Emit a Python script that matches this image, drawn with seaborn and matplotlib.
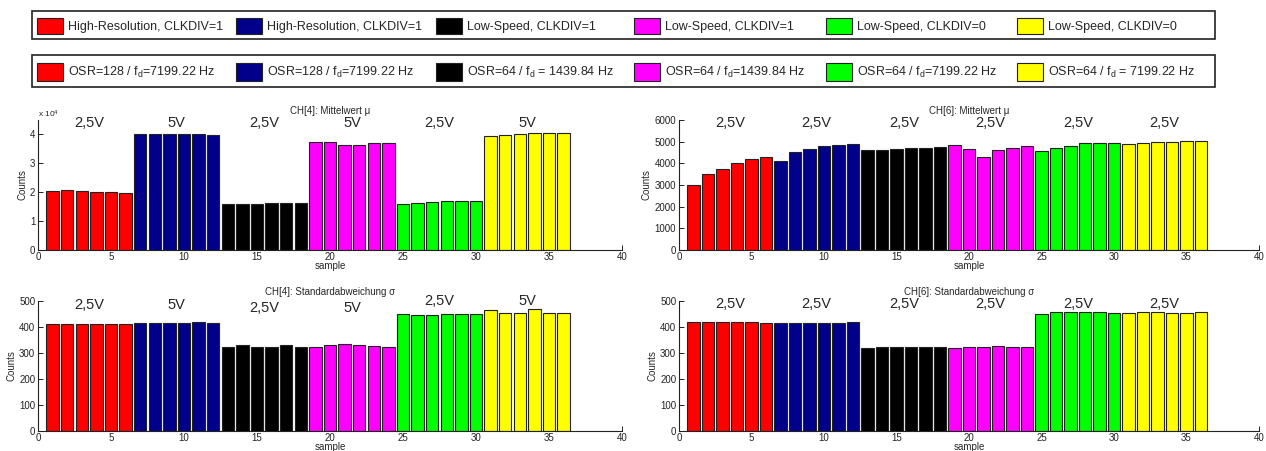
import matplotlib
matplotlib.use("Agg")
import matplotlib.pyplot as plt
from matplotlib.patches import Patch, Rectangle
from matplotlib.ticker import FuncFormatter
import pandas as pd
import seaborn as sns

# ---------------------------------------------------------------- data
samples = list(range(1, 37))
group_ids = ["G1"] * 6 + ["G2"] * 6 + ["G3"] * 6 + ["G4"] * 6 + ["G5"] * 6 + ["G6"] * 6
group_order = ["G1", "G2", "G3", "G4", "G5", "G6"]
group_colors = ["#ff0000", "#00008b", "#000000", "#ff00ff", "#00ff00", "#ffff00"]

mode_labels = [
    "High-Resolution, CLKDIV=1",
    "High-Resolution, CLKDIV=1",
    "Low-Speed, CLKDIV=1",
    "Low-Speed, CLKDIV=1",
    "Low-Speed, CLKDIV=0",
    "Low-Speed, CLKDIV=0",
]
osr_labels = [
    r"OSR=128 / f$_{\mathregular{d}}$=7199.22 Hz",
    r"OSR=128 / f$_{\mathregular{d}}$=7199.22 Hz",
    r"OSR=64 / f$_{\mathregular{d}}$ = 1439.84 Hz",
    r"OSR=64 / f$_{\mathregular{d}}$=1439.84 Hz",
    r"OSR=64 / f$_{\mathregular{d}}$=7199.22 Hz",
    r"OSR=64 / f$_{\mathregular{d}}$ = 7199.22 Hz",
]

ch4_volts = ["2,5V", "5V", "2,5V", "5V", "2,5V", "5V"]
ch6_volts = ["2,5V", "2,5V", "2,5V", "2,5V", "2,5V", "2,5V"]

ch4_mean = [20500, 20600, 20400, 20200, 20100, 19900,
            40200, 40200, 40200, 40200, 40000, 39900,
            16000, 15900, 16000, 16100, 16300, 16300,
            37500, 37300, 36200, 36500, 36900, 37200,
            16000, 16400, 16600, 16800, 17000, 17100,
            39500, 39900, 40200, 40400, 40600, 40600]

ch6_mean = [3000, 3500, 3720, 4030, 4200, 4310,
            4130, 4510, 4660, 4820, 4860, 4910,
            4600, 4630, 4660, 4710, 4710, 4760,
            4850, 4650, 4310, 4600, 4730, 4810,
            4560, 4710, 4820, 4920, 4940, 4960,
            4880, 4940, 4980, 4980, 5010, 5010]

ch4_std = [411, 411, 411, 411, 411, 411,
           416, 415, 415, 414, 418, 416,
           322, 331, 322, 325, 329, 323,
           323, 330, 333, 329, 327, 325,
           451, 448, 448, 450, 450, 450,
           466, 454, 454, 470, 454, 454]

ch6_std = [418, 418, 418, 418, 420, 417,
           417, 417, 417, 417, 415, 420,
           320, 325, 323, 322, 323, 324,
           321, 323, 323, 326, 323, 323,
           451, 456, 458, 458, 456, 455,
           455, 456, 456, 455, 455, 458]

# ---------------------------------------------------------------- style
sns.set_style("ticks", {"xtick.direction": "in", "ytick.direction": "in"})
plt.rcParams["font.family"] = ["Liberation Sans", "DejaVu Sans"]
plt.rcParams["mathtext.fontset"] = "custom"
plt.rcParams["mathtext.rm"] = "Liberation Sans"
plt.rcParams["mathtext.it"] = "Liberation Sans"

W, H = 1266, 451
fig = plt.figure(figsize=(W / 100, H / 100), dpi=100)
fig.patch.set_facecolor("white")


def fx(px):
    return px / W


def fy(py):
    return 1 - py / H


palette = dict(zip(group_order, group_colors))


def panel(rect, values, title, volts, label_y, yticks, ylim, fmt=None, multiplier=None):
    left, right, top, bottom = rect
    ax = fig.add_axes([fx(left), fy(bottom), fx(right - left), (bottom - top) / H])
    df = pd.DataFrame({"sample": samples, "value": values, "group": group_ids})
    sns.barplot(data=df, x="sample", y="value", hue="group", hue_order=group_order,
                palette=palette, native_scale=True, dodge=False, width=0.84,
                errorbar=None, edgecolor="#222222", linewidth=0.8,
                legend=False, ax=ax, saturation=1)
    ax.set_xlim(0, 40)
    ax.set_ylim(*ylim)
    ax.set_xticks(range(0, 41, 5))
    ax.set_yticks(yticks)
    if fmt is not None:
        ax.yaxis.set_major_formatter(fmt)
    sns.despine(ax=ax)
    for s in ("left", "bottom"):
        ax.spines[s].set_linewidth(0.8)
        ax.spines[s].set_color("#222222")
    ax.tick_params(axis="both", labelsize=7, length=3.5, width=0.7, colors="#222222")
    ax.tick_params(axis="x", pad=1.5)
    ax.tick_params(axis="y", pad=2)
    ax.set_xlabel("sample", fontsize=7, labelpad=-0.5)
    ax.set_ylabel("Counts", fontsize=7, labelpad=2)
    ax.set_title(title, fontsize=7, pad=4)
    for g, (gid, v) in enumerate(zip(group_order, volts)):
        xs = [s for s, gg in zip(samples, group_ids) if gg == gid]
        cx = (min(xs) + max(xs)) / 2
        ax.text(cx, label_y[g], v, ha="center", va="center", fontsize=10.5)
    if multiplier:
        ax.text(0.0, 1.0, multiplier, transform=ax.transAxes, fontsize=6,
                ha="left", va="bottom")
    return ax


x4 = FuncFormatter(lambda v, p: f"{v / 1e4:g}")

panel((38, 622, 120, 250), ch4_mean, r"CH[4]: Mittelwert μ", ch4_volts,
      [44000] * 6, range(0, 40001, 10000), (0, 45000), fmt=x4,
      multiplier=r"x 10$^{4}$")
panel((679, 1259, 120, 250), ch6_mean, r"CH[6]: Mittelwert μ", ch6_volts,
      [5860] * 6, range(0, 6001, 1000), (0, 6000))
panel((38, 622, 301, 431), ch4_std, r"CH[4]: Standardabweichung σ", ch4_volts,
      [485, 485, 472, 472, 500, 500], range(0, 501, 100), (0, 500))
panel((679, 1259, 301, 431), ch6_std, r"CH[6]: Standardabweichung σ", ch6_volts,
      [487] * 6, range(0, 501, 100), (0, 500))

# ---------------------------------------------------------------- legends
col_x = [37, 236, 436, 634, 826, 1017]
fs = 9
em = fs * 100 / 72


def legend_row(labels, cy, box_top, box_bottom, patch_h):
    for x, lab, col in zip(col_x, labels, group_colors):
        fig.legend(handles=[Patch(facecolor=col, edgecolor="#222222", linewidth=0.8)],
                   labels=[lab], loc="center left",
                   bbox_to_anchor=(fx(x), fy(cy)), frameon=False,
                   borderpad=0, borderaxespad=0, fontsize=fs,
                   handlelength=26 / em, handleheight=patch_h / em,
                   handletextpad=5 / em)
    fig.add_artist(Rectangle((fx(32), fy(box_bottom)), fx(1215 - 32),
                             (box_bottom - box_top) / H, transform=fig.transFigure,
                             fill=False, edgecolor="#222222", linewidth=1.2))


legend_row(mode_labels, 26, 11, 39, 19)
legend_row(osr_labels, 72, 55, 87, 24)

fig.savefig("out.png", dpi=100, facecolor="white")
